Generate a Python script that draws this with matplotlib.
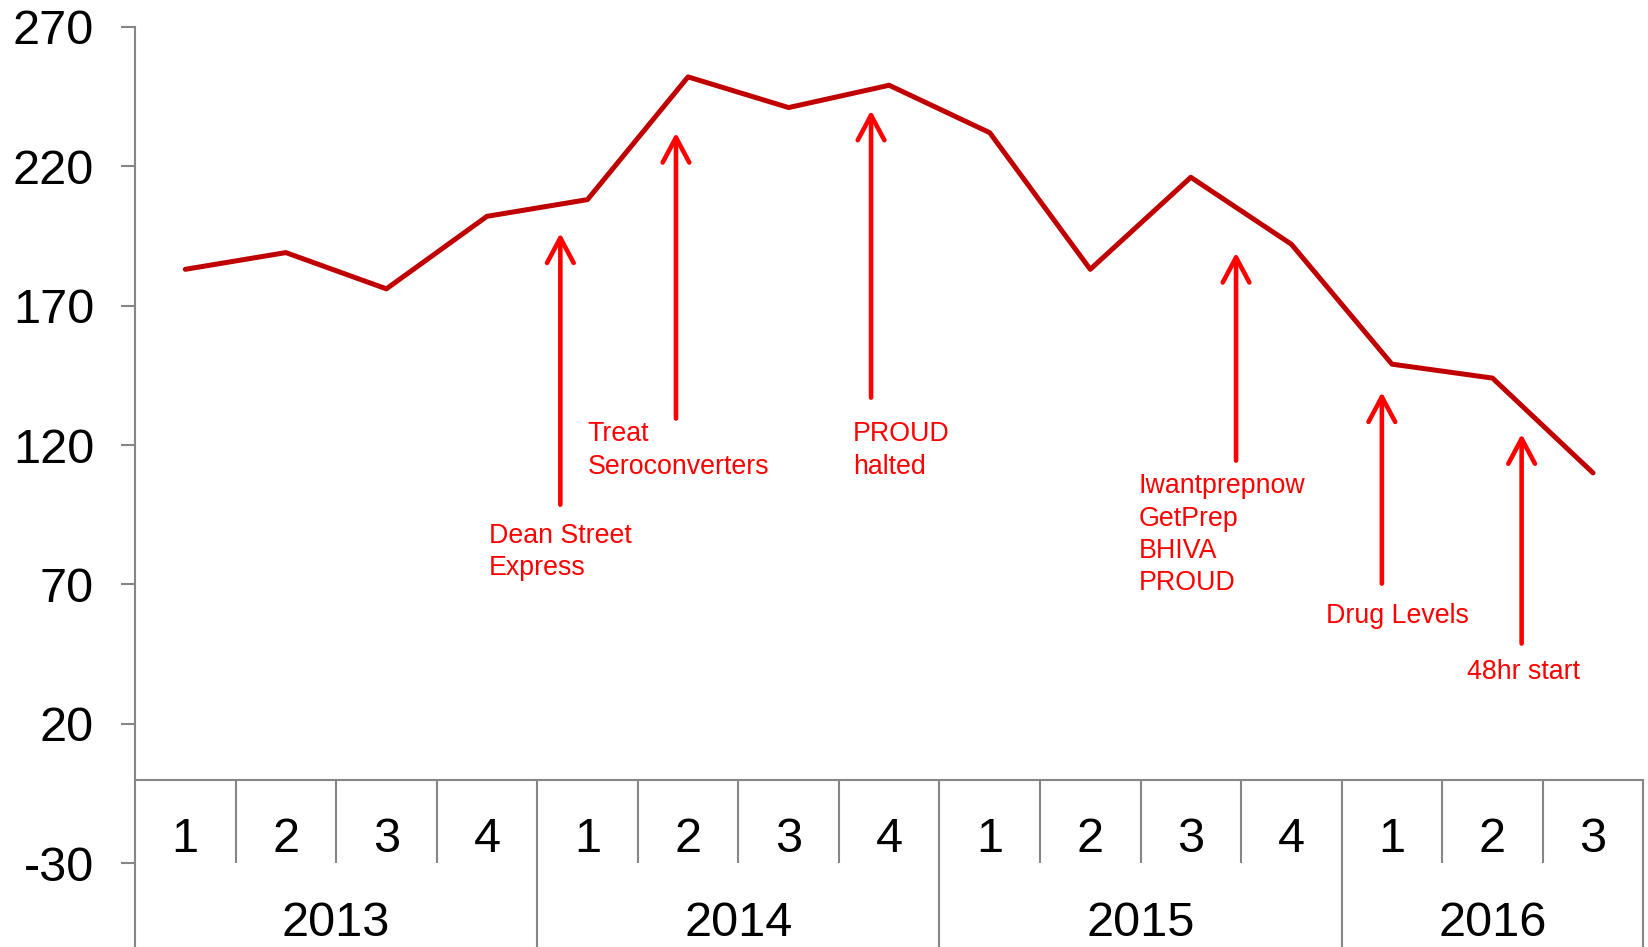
import matplotlib
matplotlib.use("Agg")
import matplotlib.pyplot as plt

plt.rcParams['font.family'] = ['Liberation Sans', 'DejaVu Sans']

# quarterly values, 2013 Q1 .. 2016 Q3
years = ['2013', '2014', '2015', '2016']
quarters_per_year = [4, 4, 4, 3]
quarters = ['1', '2', '3', '4', '1', '2', '3', '4', '1', '2', '3', '4', '1', '2', '3']
values = [183, 189, 176, 202, 208, 252, 241, 249, 232, 183, 216, 192, 149, 144, 110]

# events marked with arrows (x in category units, y in data units)
events = ['Dean Street\nExpress', 'Treat\nSeroconverters', 'PROUD\nhalted',
          'Iwantprepnow\nGetPrep\nBHIVA\nPROUD', 'Drug Levels', '48hr start']
event_x = [4.23, 5.38, 7.32, 10.95, 12.40, 13.79]
arrow_tip = [196, 232, 240, 189, 139, 124]
arrow_tail = [98.6, 129.5, 137, 114.4, 70.3, 48.8]
label_x = [3.52, 4.50, 7.14, 9.98, 11.84, 13.25]
label_y = [81.6, 118, 118, 87.8, 58.6, 38.6]

yticks = [270, 220, 170, 120, 70, 20, -30]

grey = '#868686'
W, H = 1649, 947
fig = plt.figure(figsize=(W / 100, H / 100), dpi=100)
ax = fig.add_axes([135 / W, 0, (1643.3 - 135) / W, 1 - 26.7 / H])

n = len(values)
xs = [i + 0.5 for i in range(n)]
ax.plot(xs, values, color='#C00000', lw=3.6, solid_capstyle='round', zorder=3)

ax.set_xlim(0, n)
ax.set_ylim(-60, 270)

for sp in ['top', 'right', 'bottom']:
    ax.spines[sp].set_visible(False)
ax.spines['left'].set_color(grey)
ax.spines['left'].set_linewidth(1.5)
ax.set_xticks([])
ax.set_yticks(yticks)
ax.set_yticklabels([str(t) for t in yticks])
ax.tick_params(axis='y', length=10, width=1.5, color=grey, pad=19.5,
               labelsize=35, labelcolor='black')

# category axis at y=0 with two-level labels
ax.axhline(0, color=grey, lw=1.5, clip_on=False)
year_edges = [0]
for c in quarters_per_year:
    year_edges.append(year_edges[-1] + c)
quarter_seps = [i for i in range(1, n) if i not in year_edges]
ax.vlines(quarter_seps, -30, 0, color=grey, lw=1.5)
ax.vlines(year_edges[1:], -60, 0, color=grey, lw=1.5, clip_on=False)

for x, q in zip(xs, quarters):
    ax.text(x, -21.4, q, ha='center', va='center', fontsize=35)
for i, y in enumerate(years):
    cx = (year_edges[i] + year_edges[i + 1]) / 2
    ax.text(cx, -51.6, y, ha='center', va='center', fontsize=35)

for txt, x, tip, tail, lx, ly in zip(events, event_x, arrow_tip, arrow_tail, label_x, label_y):
    ax.annotate('', xy=(x, tip), xytext=(x, tail),
                arrowprops=dict(arrowstyle='->,head_length=0.9,head_width=0.48',
                                color='#FF0000', lw=3.3, mutation_scale=20,
                                shrinkA=0, shrinkB=0))
    ax.text(lx, ly, txt, ha='left', va='center', fontsize=19.3,
            color='#FF0000', linespacing=1.32)

fig.savefig('out.png', dpi=100)
